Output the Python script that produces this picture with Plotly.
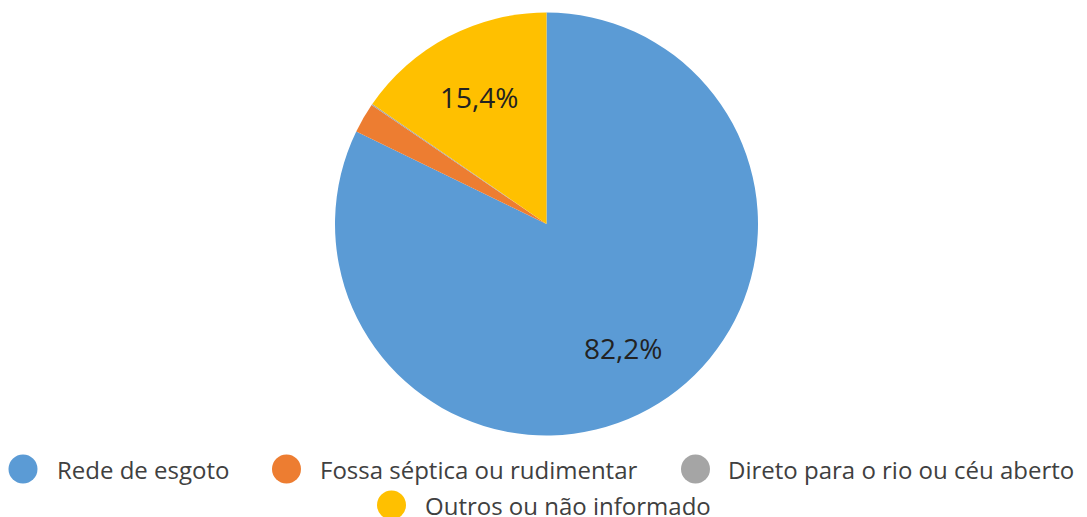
import numpy as np
import plotly.graph_objects as go

categories = ["Rede de esgoto", "Fossa séptica ou rudimentar",
              "Direto para o rio ou céu aberto", "Outros ou não informado"]
values = [82.2, 2.3, 0.1, 15.4]
labels_shown = ["82,2%", "", "", "15,4%"]
colors = ["#5B9BD5", "#ED7D31", "#A5A5A5", "#FFC000"]

# page has an 8px body margin: figure is drawn at (8, 8)
OFF = 8
W, H = 1087 - OFF, 517 - OFF
FONT = "Open Sans"

def px(x):
    return (x - OFF) / W

def py(y):
    return 1 - (y - OFF) / H

CX, CY, R = 546.5, 224, 211.5

fig = go.Figure()
fig.add_trace(go.Pie(
    labels=categories, values=values,
    textinfo="none",
    marker=dict(colors=colors, line=dict(width=0)),
    sort=False, direction="clockwise", rotation=0,
    showlegend=False, hoverinfo="label+percent",
    domain=dict(x=[px(CX - R), px(CX + R)], y=[py(CY + R), py(CY - R)]),
))

# slice labels placed along each slice's mid-angle (computed from the values)
vals = np.array(values, dtype=float)
cum = np.cumsum(vals) - vals / 2
mid = cum / vals.sum() * 2 * np.pi
for ang, txt in zip(mid, labels_shown):
    if not txt:
        continue
    lx = CX + 0.685 * R * np.sin(ang)
    ly = CY - 0.685 * R * np.cos(ang)
    fig.add_annotation(x=px(lx), y=py(ly + 1), xref="paper", yref="paper",
                       text=txt, showarrow=False, xanchor="center", yanchor="middle",
                       font=dict(size=28, color="#222222", family=FONT))

# legend built from circle shapes + labels
legend_pos = [(23, 55, 469), (286.5, 318, 469), (695.5, 726, 469), (391.5, 423, 505)]
for (cx, tx, cy), name, col in zip(legend_pos, categories, colors):
    fig.add_shape(type="circle", xref="paper", yref="paper",
                  xsizemode="pixel", ysizemode="pixel",
                  xanchor=px(cx), yanchor=py(cy),
                  x0=-14.5, x1=14.5, y0=-14.5, y1=14.5,
                  fillcolor=col, line=dict(width=0))
    fig.add_annotation(x=px(tx), y=py(cy), xref="paper", yref="paper",
                       text=name, showarrow=False, xanchor="left", yanchor="middle",
                       font=dict(size=24, color="#404040", family=FONT))

fig.update_layout(width=W, height=H, margin=dict(l=0, r=0, t=0, b=0),
                  paper_bgcolor="white", plot_bgcolor="white")
fig.write_html("out.html")
